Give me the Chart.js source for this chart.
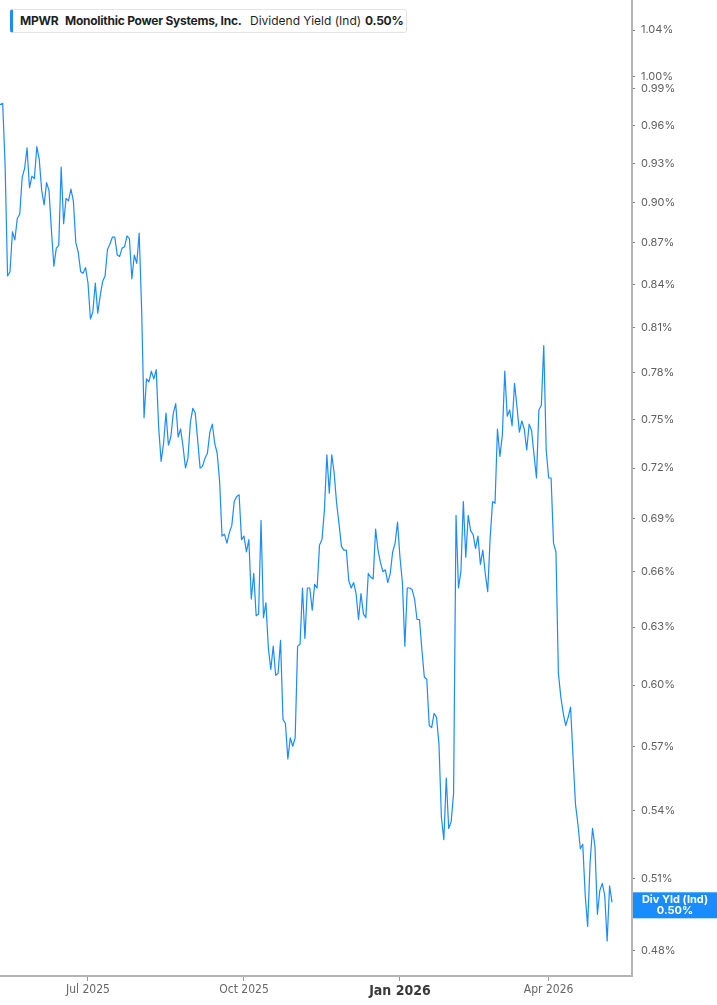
<!DOCTYPE html>
<html>
<head>
<meta charset="utf-8">
<script src="https://cdn.jsdelivr.net/npm/chart.js@4.4.1/dist/chart.umd.min.js"></script>
<style>
  html,body{margin:0;padding:0;background:#fff}
  #wrap{position:relative;width:717px;height:1005px}
  #legend{position:absolute;left:10px;top:9px;width:397px;height:24px;box-sizing:border-box;
    border:1px solid #e4e4e4;border-left:3px solid #1a8cff;border-radius:3px;background:#fff;
    font-family:Inter,'Noto Sans',sans-serif;font-size:12px;color:#1f1f1f}
  #legend span{position:absolute;top:4px;white-space:nowrap;line-height:14px}
  .b{font-weight:700;letter-spacing:-0.25px}
</style>
</head>
<body>
<div id="wrap">
  <canvas id="c" width="717" height="1005"></canvas>
  <div id="legend">
    <span class="b" style="left:7px">MPWR</span>
    <span class="b" style="left:52px">Monolithic Power Systems, Inc.</span>
    <span style="left:237px">Dividend Yield (Ind)</span>
    <span class="b" id="lgVal" style="left:352px"></span>
  </div>
</div>
<script>
// MPWR 배당수익률(Ind) — 거래일 기준 일별 값, 2025-05-07 부터
const START_DATE='2025-05-07';
const HOLIDAYS=['2025-05-26','2025-06-19','2025-07-04','2025-09-01','2025-11-27','2025-12-25',
  '2026-01-01','2026-01-19','2026-02-16','2026-04-03'];
const yieldPct=[
  0.976,0.977,0.978,0.928,0.846,0.849,0.878,0.872,0.888,0.891,
  0.919,0.926,0.942,0.911,0.920,0.918,0.943,0.933,0.909,0.898,
  0.915,0.909,0.879,0.853,0.866,0.868,0.927,0.884,0.903,0.901,
  0.910,0.901,0.870,0.863,0.849,0.848,0.852,0.841,0.816,0.821,
  0.841,0.820,0.832,0.842,0.846,0.865,0.869,0.874,0.874,0.861,
  0.860,0.866,0.867,0.875,0.873,0.844,0.861,0.855,0.877,0.823,
  0.751,0.776,0.774,0.781,0.776,0.782,0.745,0.724,0.735,0.754,
  0.734,0.739,0.754,0.760,0.739,0.744,0.733,0.720,0.726,0.748,
  0.757,0.754,0.737,0.720,0.721,0.726,0.729,0.742,0.747,0.735,
  0.729,0.712,0.680,0.681,0.676,0.682,0.686,0.700,0.703,0.704,
  0.678,0.680,0.671,0.678,0.645,0.659,0.636,0.637,0.689,0.635,
  0.643,0.619,0.608,0.620,0.605,0.606,0.623,0.583,0.581,0.564,
  0.574,0.570,0.574,0.620,0.621,0.651,0.624,0.651,0.651,0.639,
  0.653,0.651,0.675,0.678,0.695,0.728,0.705,0.728,0.717,0.699,
  0.687,0.674,0.672,0.672,0.655,0.651,0.654,0.648,0.634,0.648,
  0.637,0.635,0.659,0.657,0.656,0.684,0.672,0.665,0.660,0.661,
  0.654,0.659,0.671,0.676,0.688,0.668,0.654,0.620,0.651,0.651,
  0.650,0.645,0.634,0.634,0.618,0.604,0.603,0.580,0.579,0.586,
  0.584,0.571,0.537,0.527,0.555,0.532,0.535,0.548,0.692,0.651,
  0.660,0.700,0.668,0.692,0.683,0.681,0.673,0.680,0.664,0.672,
  0.659,0.649,0.679,0.700,0.699,0.744,0.727,0.740,0.781,0.752,
  0.756,0.746,0.773,0.758,0.742,0.749,0.744,0.731,0.747,0.743,
  0.728,0.714,0.756,0.759,0.798,0.731,0.714,0.714,0.676,0.671,
  0.606,0.594,0.586,0.580,0.584,0.589,0.565,0.543,0.534,0.523,
  0.525,0.503,0.490,0.517,0.532,0.524,0.495,0.505,0.508,0.503,
  0.484,0.507,0.500,
];
const yTicks=[0.48,0.51,0.54,0.57,0.60,0.63,0.66,0.69,0.72,0.75,0.78,0.81,0.84,0.87,0.90,0.93,0.96,0.99,1.00,1.04];
const tickMonths=['2025-07','2025-10','2026-01','2026-04'];
const tickLabels=['Jul 2025','Oct 2025','Jan 2026','Apr 2026'];

// 보이는 구간 (거래일 인덱스, 2025-07-01 = 0) / 로그 축 범위
const X_MIN=-36.1, X_MAX=223.2;
const Y_MIN=0.470, Y_MAX=1.0666;
const BLUE='#1a8cff';

function tradingDays(start,n){
  const out=[];const d=new Date(start+'T12:00:00Z');
  while(out.length<n+80){
    const iso=d.toISOString().slice(0,10),wd=d.getUTCDay();
    if(wd!==0&&wd!==6&&!HOLIDAYS.includes(iso))out.push(iso);
    d.setUTCDate(d.getUTCDate()+1);
  }
  return out;
}
const dates=tradingDays(START_DATE,yieldPct.length);
const origin=dates.indexOf('2025-07-01');
const tickPos=tickMonths.map(m=>dates.findIndex(d=>d.startsWith(m))-origin);
const points=yieldPct.map((v,i)=>({x:i-origin,y:v,d:dates[i]}));
const last=yieldPct[yieldPct.length-1];
document.getElementById('lgVal').textContent=last.toFixed(2)+'%';

const lastLabel={
  id:'lastLabel',
  afterDraw(chart){
    const {ctx}=chart, ys=chart.scales.y;
    const y=ys.getPixelForValue(last);
    ctx.save();
    ctx.fillStyle=BLUE;
    ctx.fillRect(633,y-10,84,26);
    ctx.fillStyle='#fff';
    ctx.textAlign='center';ctx.textBaseline='middle';
    ctx.font='bold 11px Inter, "Noto Sans", sans-serif';
    ctx.fillText('Div Yld (Ind)',675,y-2.5);
    ctx.fillText(last.toFixed(2)+'%',675,y+8.5);
    ctx.restore();
  }
};
// 눈금 라벨 때문에 생기는 여백 제거 (차트 영역을 캔버스 가장자리까지)
const noPad=s=>{s.paddingTop=0;s.paddingBottom=0;s.paddingLeft=0;s.paddingRight=0;};

new Chart(document.getElementById('c'),{
  type:'line',
  data:{datasets:[{data:points,borderColor:BLUE,borderWidth:1.2,borderJoinStyle:'round',pointRadius:0,tension:0}]},
  options:{
    responsive:false,animation:false,devicePixelRatio:1,
    layout:{padding:0},
    plugins:{legend:{display:false},
      tooltip:{callbacks:{title:c=>c[0].raw.d,label:c=>` Div Yld: ${c.raw.y.toFixed(2)}%`}}},
    scales:{
      x:{type:'linear',min:X_MIN,max:X_MAX,position:'bottom',
        afterBuildTicks:s=>{s.ticks=tickPos.map(v=>({value:v}));},
        afterFit:s=>{s.height=29;noPad(s);},
        grid:{drawOnChartArea:false,drawTicks:true,tickLength:5,tickColor:'#9a9a9a'},
        border:{display:true,color:'#b4b4b4',width:2},
        ticks:{padding:2,maxRotation:0,autoSkip:false,
          callback:v=>tickLabels[tickPos.indexOf(v)]||'',
          color:c=>c.tick&&c.tick.value===tickPos[2]?'#3a3a3a':'#666',
          font:c=>c.tick&&c.tick.value===tickPos[2]
            ?{family:'"Liberation Sans Narrow","DejaVu Sans Condensed",sans-serif',size:14,weight:'bold'}
            :{family:'"Liberation Sans Narrow","DejaVu Sans Condensed",sans-serif',size:12}}},
      y:{type:'logarithmic',position:'right',min:Y_MIN,max:Y_MAX,
        afterBuildTicks:s=>{s.ticks=yTicks.map(v=>({value:v}));},
        afterFit:s=>{s.width=85;noPad(s);},
        grid:{drawOnChartArea:false,drawTicks:true,tickLength:3,tickColor:'#808080'},
        border:{display:true,color:'#b4b4b4',width:2},
        ticks:{padding:6,color:'#5f5f5f',font:{family:'Inter,"Noto Sans",sans-serif',size:11},
          callback:v=>Number(v).toFixed(2)+'%'}}
    }
  },
  plugins:[lastLabel]
});
</script>
</body>
</html>
